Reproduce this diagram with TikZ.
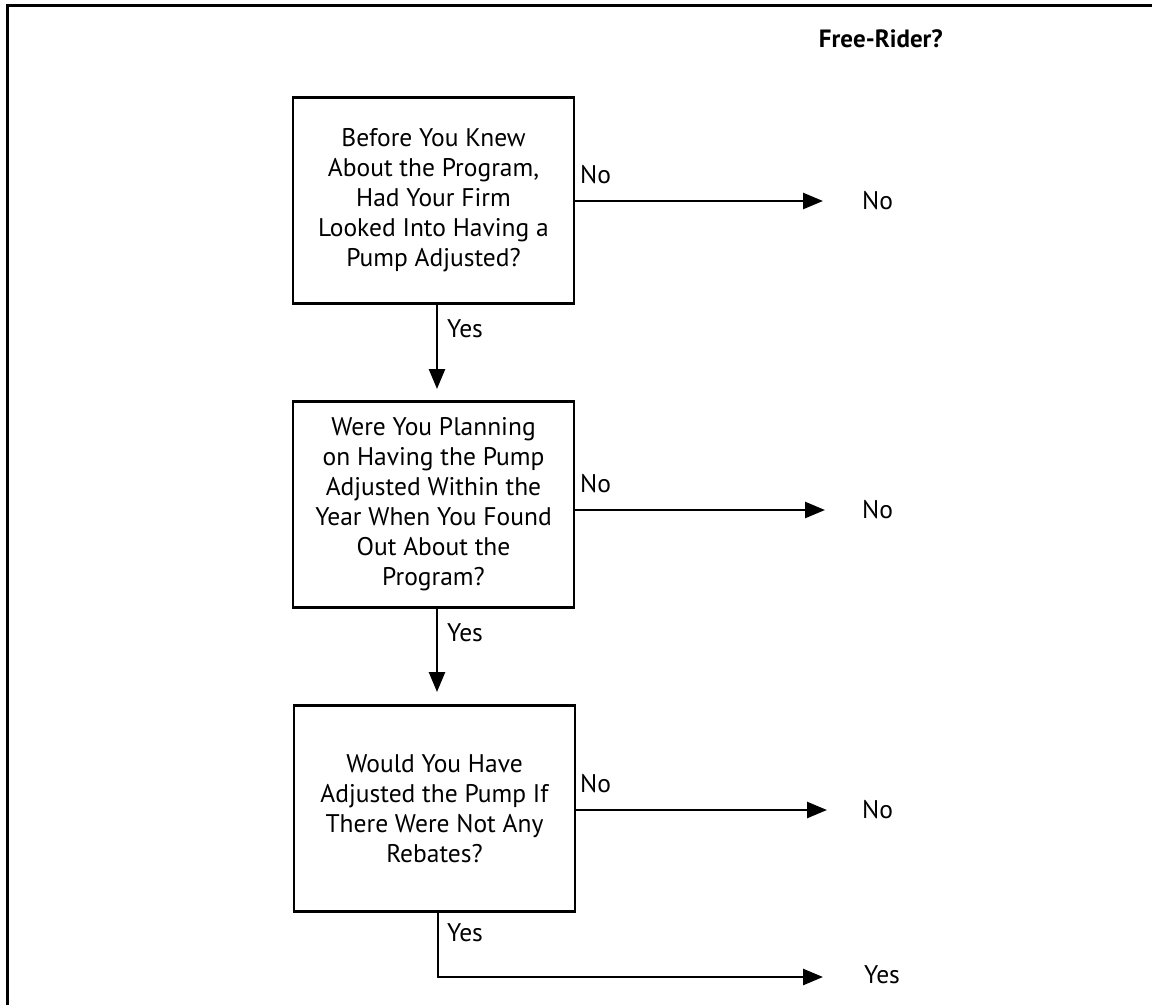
\documentclass[tikz,border=0pt]{standalone}
\usepackage{fontspec}
\setmainfont{PT Sans}
\usetikzlibrary{arrows.meta}
\begin{document}
\begin{tikzpicture}[x=1pt,y=-1pt,
  qbox/.style={draw,line width=2.8pt,minimum width=281pt,minimum height=206pt,
    align=center,inner sep=0pt,font=\fontsize{25.5}{30}\selectfont},
  conn/.style={line width=2.6pt,-{Triangle[length=20pt,width=16pt]}},
  lbl/.style={font=\fontsize{25.5}{30}\selectfont,inner sep=0pt},
  frame/.style={line width=3pt}]
\useasboundingbox (0,0) rectangle (1152,1005);
\coordinate (ftl) at (7,5);
\coordinate (fbl) at (7,1005);
\coordinate (ftr) at (1152,5);
\draw[frame] (fbl) -- (ftl) -- (ftr);
\node[anchor=base east,inner sep=0pt,font=\bfseries\fontsize{25}{30}\selectfont] (title) at (943,47) {Free-Rider?};

\node[qbox] (b1) at (433.5,200.5) {Before You Knew\\About the Program,\\Had Your Firm\\Looked Into Having a\\Pump Adjusted?};
\node[qbox] (b2) at (433.5,504.5) {Were You Planning\\on Having the Pump\\Adjusted Within the\\Year When You Found\\Out About the\\Program?};
\node[qbox] (b3) at (434.5,808.5) {Would You Have\\Adjusted the Pump If\\There Were Not Any\\Rebates?};

% No branches
\coordinate (t1) at (823,201);
\coordinate (t2) at (825,510);
\coordinate (t3) at (827,810);
\node[lbl,anchor=west] (n1) at (862,201) {No};
\node[lbl,anchor=west] (n2) at (862,510) {No};
\node[lbl,anchor=west] (n3) at (862,810) {No};
\draw[conn] (b1.east |- t1) -- (t1);
\draw[conn] (b2.east |- t2) -- (t2);
\draw[conn] (b3.east |- t3) -- (t3);
\node[lbl,anchor=base west] (ln1) at (580,183) {No};
\node[lbl,anchor=base west] (ln2) at (580,492) {No};
\node[lbl,anchor=base west] (ln3) at (580,792) {No};

% Yes branches
\coordinate (y1) at (437,304);
\coordinate (y1t) at (437,389);
\coordinate (y2) at (437,607);
\coordinate (y2t) at (437,692);
\draw[conn] (b1.south -| y1) -- (y1t);
\draw[conn] (b2.south -| y2) -- (y2t);
\node[lbl,anchor=base west] (ly1) at (447,337) {Yes};
\node[lbl,anchor=base west] (ly2) at (447,641) {Yes};
\coordinate (y3) at (438,911);
\coordinate (y3c) at (438,977);
\coordinate (y3t) at (823,977);
\draw[conn] (b3.south -| y3) -- (y3c) -- (y3t);
\node[lbl,anchor=base west] (ly3) at (447,941) {Yes};
\node[lbl,anchor=west] (ye) at (864,975) {Yes};
\end{tikzpicture}
\end{document}
